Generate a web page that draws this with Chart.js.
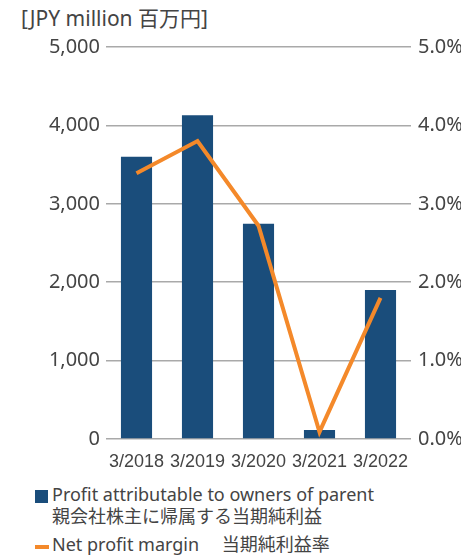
<!DOCTYPE html>
<html lang="ja">
<head>
    <meta charset="UTF-8">
    <title>Profit attributable to owners of parent</title>
    <script src="https://cdn.jsdelivr.net/npm/chart.js"></script>
    <style>
        body {
            margin: 0;
            width: 461px;
            height: 555px;
            position: relative;
            background: #fff;
            font-family: "Noto Sans", "Noto Sans CJK JP", sans-serif;
            color: #444;
            overflow: hidden;
        }
        #chart {
            position: absolute;
            left: 0;
            top: 0;
        }
        .unit {
            position: absolute;
            left: 21px;
            top: 2px;
            font-size: 21px;
            color: #444;
            white-space: nowrap;
        }
        .legend {
            position: absolute;
            left: 35px;
            top: 483px;
            font-size: 18px;
            line-height: 22px;
            color: #444;
        }
        .legend-item {
            position: relative;
            padding-left: 17px;
            margin-bottom: 6px;
        }
        .legend-item .sw-box {
            position: absolute;
            left: 0;
            top: 7px;
            width: 13px;
            height: 13px;
        }
        .legend-item .sw-line {
            position: absolute;
            left: 0;
            top: 12px;
            width: 14px;
            height: 4px;
        }
    </style>
</head>
<body>
    <div class="unit">[JPY million 百万円]</div>
    <canvas id="chart" width="461" height="470"></canvas>
    <div class="legend" id="legend"></div>

    <script>
        // data
        const categories = ['3/2018', '3/2019', '3/2020', '3/2021', '3/2022'];
        const profit = [3600, 4130, 2745, 115, 1900];          // JPY million
        const margin = [3.39, 3.80, 2.72, 0.09, 1.80];          // %
        const profitLabel = ['Profit attributable to owners of parent', '親会社株主に帰属する当期純利益'];
        const marginLabel = ['Net profit margin\u3000 当期純利益率'];

        const barColor = '#1a4d7b';
        const lineColor = '#f4892a';

        const ctx = document.getElementById('chart').getContext('2d');
        new Chart(ctx, {
            type: 'bar',
            data: {
                labels: categories,
                datasets: [
                    {
                        type: 'line',
                        label: marginLabel.join(' '),
                        data: margin,
                        yAxisID: 'y1',
                        borderColor: lineColor,
                        borderWidth: 4,
                        pointRadius: 0,
                        tension: 0,
                        fill: false,
                        order: 0
                    },
                    {
                        type: 'bar',
                        label: profitLabel.join(' '),
                        data: profit,
                        yAxisID: 'y',
                        backgroundColor: barColor,
                        barPercentage: 0.51,
                        categoryPercentage: 1.0,
                        order: 1
                    }
                ]
            },
            options: {
                responsive: false,
                animation: false,
                layout: { padding: { top: 47, left: 0, right: 0, bottom: 0 } },
                plugins: {
                    legend: { display: false },
                    tooltip: { enabled: false }
                },
                scales: {
                    x: {
                        grid: { display: false },
                        border: { display: false },
                        ticks: {
                            color: '#444',
                            padding: 4,
                            maxRotation: 0,
                            autoSkip: false,
                            font: { family: '"Liberation Sans", "Noto Sans"', size: 18 }
                        },
                        afterFit: (scale) => { scale.height = 31; }
                    },
                    y: {
                        position: 'left',
                        min: 0,
                        max: 5000,
                        grid: { color: '#a9a9a9', lineWidth: 1.5, drawTicks: false },
                        border: { display: false },
                        ticks: {
                            stepSize: 1000,
                            color: '#444',
                            padding: 6,
                            font: { family: '"Noto Sans"', size: 20 },
                            callback: (v) => v.toLocaleString('en-US')
                        },
                        afterFit: (scale) => { scale.width = 106; }
                    },
                    y1: {
                        position: 'right',
                        min: 0,
                        max: 5,
                        grid: { display: false, drawTicks: false },
                        border: { display: false },
                        ticks: {
                            stepSize: 1,
                            color: '#444',
                            padding: 7,
                            font: { family: '"Noto Sans"', size: 20 },
                            callback: (v) => v.toFixed(1) + '%'
                        },
                        afterFit: (scale) => { scale.width = 50; }
                    }
                }
            }
        });

        // legend below the chart
        const legend = document.getElementById('legend');
        const items = [
            { lines: profitLabel, color: barColor, kind: 'sw-box' },
            { lines: marginLabel, color: lineColor, kind: 'sw-line' }
        ];
        items.forEach(item => {
            const div = document.createElement('div');
            div.className = 'legend-item';
            const sw = document.createElement('span');
            sw.className = item.kind;
            sw.style.background = item.color;
            div.appendChild(sw);
            item.lines.forEach(t => {
                const line = document.createElement('div');
                line.textContent = t;
                div.appendChild(line);
            });
            legend.appendChild(div);
        });
    </script>
</body>
</html>
